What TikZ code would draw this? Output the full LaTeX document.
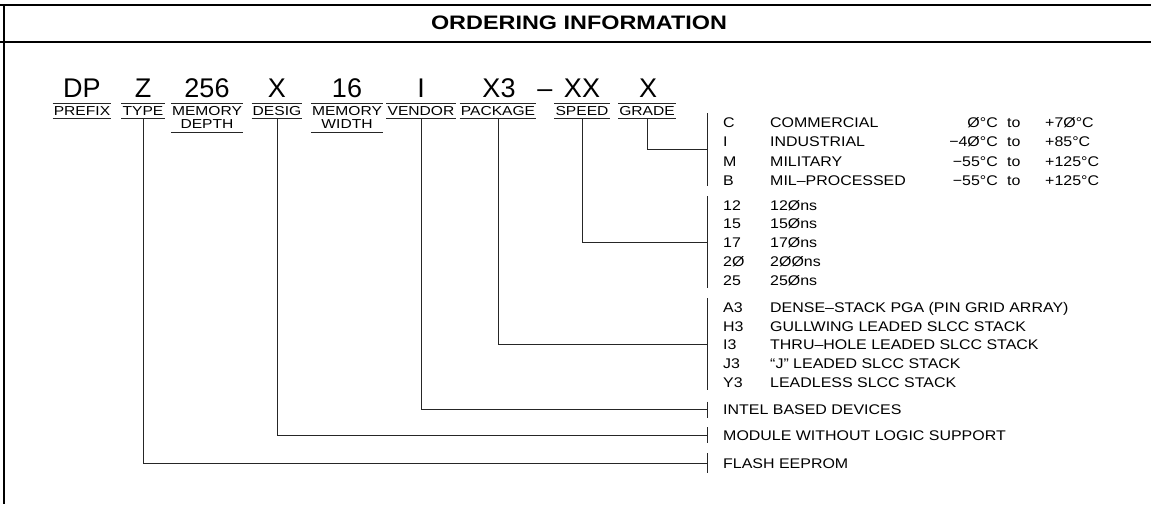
\documentclass[tikz,border=0pt]{standalone}
\usepackage{fontspec}
\setmainfont{Liberation Sans}
\newfontfamily\tagfont{Liberation Sans}[FakeStretch=1.2]
\newfontfamily\cadfont{Liberation Sans}[FakeStretch=1.14]
\newfontfamily\headfont{Liberation Sans}[FakeStretch=1.2]
\usepackage{tikz}
\newcommand{\Oh}{Ø}

\begin{document}
\begin{tikzpicture}[x=1pt, y=-1pt,
	frame/.style={line width=2pt},
	lead/.style={draw=black!85, line width=0.8pt},
	code/.style={anchor=base, inner sep=0pt, font=\fontsize{27}{27}\selectfont},
	field/.style={anchor=north, inner xsep=1pt, inner ysep=3pt, align=center,
		font=\tagfont\fontsize{13}{13.5}\selectfont,
		append after command={(\tikzlastnode.north west) edge[lead] (\tikzlastnode.north east)
			(\tikzlastnode.south west) edge[lead] (\tikzlastnode.south east)}},
	entry/.style={anchor=base west, inner sep=0pt, font=\cadfont\fontsize{14}{14}\selectfont}]
	\useasboundingbox (0,0) rectangle (1151,504);

	% frame and heading
	\draw[frame] (0,5) -- (1151,5);
	\draw[frame] (0,42) -- (1151,42);
	\draw[frame] (4,5) -- (4,504);
	\node (title) at (579,23) {\headfont\bfseries\fontsize{19.5}{19.5}\selectfont ORDERING INFORMATION};

	% part number
	\node[code] (codeDP) at (82,97) {DP};
	\node[code] (codeZ) at (143,97) {Z};
	\node[code] (codeDepth) at (207,97) {256};
	\node[code] (codeDesig) at (277,97) {X};
	\node[code] (codeWidth) at (347,97) {16};
	\node[code] (codeVendor) at (421,97) {I};
	\node[code] (codePkg) at (499,97) {X3};
	\node[code] (codeDash) at (545,97) {–};
	\node[code] (codeSpeed) at (582,97) {XX};
	\node[code] (codeGrade) at (648,97) {X};

	\node[field] (prefix) at (82,103) {PREFIX};
	\node[field] (type) at (143,103) {TYPE};
	\node[field] (mdepth) at (207,103) {MEMORY\\DEPTH};
	\node[field] (desig) at (277,103) {DESIG};
	\node[field] (mwidth) at (347,103) {MEMORY\\WIDTH};
	\node[field] (vendor) at (421,103) {VENDOR};
	\node[field] (package) at (498,103) {PACKAGE};
	\node[field] (speed) at (582,103) {SPEED};
	\node[field] (grade) at (647,103) {GRADE};

	% grade
	\node[entry] (gC) at (723,127) {C};
	\node[entry] (gI) at (723,146) {I};
	\node[entry] (gM) at (723,166) {M};
	\node[entry] (gB) at (723,185) {B};
	\node[entry] (gCd) at (770,127) {COMMERCIAL};
	\node[entry] (gId) at (770,146) {INDUSTRIAL};
	\node[entry] (gMd) at (770,166) {MILITARY};
	\node[entry] (gBd) at (770,185) {MIL–PROCESSED};
	\node[entry, anchor=base east] (gCl) at (998,127) {\Oh°C};
	\node[entry, anchor=base east] (gIl) at (998,146) {−4\Oh°C};
	\node[entry, anchor=base east] (gMl) at (998,166) {−55°C};
	\node[entry, anchor=base east] (gBl) at (998,185) {−55°C};
	\node[entry] (gCh) at (1007,127) {\makebox[38pt][l]{to}+7\Oh°C};
	\node[entry] (gIh) at (1007,146) {\makebox[38pt][l]{to}+85°C};
	\node[entry] (gMh) at (1007,166) {\makebox[38pt][l]{to}+125°C};
	\node[entry] (gBh) at (1007,185) {\makebox[38pt][l]{to}+125°C};
	\coordinate (gradejoin) at (707,149);
	\draw[lead] ([xshift=-16pt, yshift=4pt]gC.north west) -- ([xshift=-16pt, yshift=-1pt]gB.south west);
	\draw[lead] (grade.south) |- (gradejoin);

	% speed
	\node[entry] (s12) at (723,210) {12};
	\node[entry] (s15) at (723,228.5) {15};
	\node[entry] (s17) at (723,247) {17};
	\node[entry] (s20) at (723,266) {2\Oh};
	\node[entry] (s25) at (723,285) {25};
	\node[entry] (s12d) at (770,210) {12\Oh ns};
	\node[entry] (s15d) at (770,228.5) {15\Oh ns};
	\node[entry] (s17d) at (770,247) {17\Oh ns};
	\node[entry] (s20d) at (770,266) {2\Oh\Oh ns};
	\node[entry] (s25d) at (770,285) {25\Oh ns};
	\draw[lead] ([xshift=-16pt, yshift=4pt]s12.north west) -- ([xshift=-16pt, yshift=-3pt]s25.south west);
	\draw[lead] (speed.south) |- ([xshift=-16pt]s17.west);

	% package
	\node[entry] (pA) at (723,312) {A3};
	\node[entry] (pH) at (723,331) {H3};
	\node[entry] (pI) at (723,349) {I3};
	\node[entry] (pJ) at (723,368) {J3};
	\node[entry] (pY) at (723,387) {Y3};
	\node[entry] (pAd) at (770,312) {DENSE–STACK PGA (PIN GRID ARRAY)};
	\node[entry] (pHd) at (770,331) {GULLWING LEADED SLCC STACK};
	\node[entry] (pId) at (770,349) {THRU–HOLE LEADED SLCC STACK};
	\node[entry] (pJd) at (770,368) {“J” LEADED SLCC STACK};
	\node[entry] (pYd) at (770,387) {LEADLESS SLCC STACK};
	\draw[lead] ([xshift=-16pt, yshift=4pt]pA.north west) -- ([xshift=-16pt, yshift=-3pt]pY.south west);
	\draw[lead] (package.south) |- ([xshift=-16pt]pI.west);

	% vendor, designator, type
	\node[entry] (intel) at (723,414.5) {INTEL BASED DEVICES};
	\node[entry] (module) at (723,440) {MODULE WITHOUT LOGIC SUPPORT};
	\node[entry] (flash) at (723,468) {FLASH EEPROM};
	\draw[lead] ([xshift=-16pt, yshift=3pt]intel.north west) -- ([xshift=-16pt, yshift=-3pt]intel.south west);
	\draw[lead] ([xshift=-16pt, yshift=3pt]module.north west) -- ([xshift=-16pt, yshift=-3pt]module.south west);
	\draw[lead] ([xshift=-16pt, yshift=5pt]flash.north west) -- ([xshift=-16pt, yshift=-5pt]flash.south west);
	\draw[lead] (vendor.south) |- ([xshift=-16pt]intel.west);
	\draw[lead] (desig.south) |- ([xshift=-16pt]module.west);
	\draw[lead] (type.south) |- ([xshift=-16pt]flash.west);

\end{tikzpicture}
\end{document}
